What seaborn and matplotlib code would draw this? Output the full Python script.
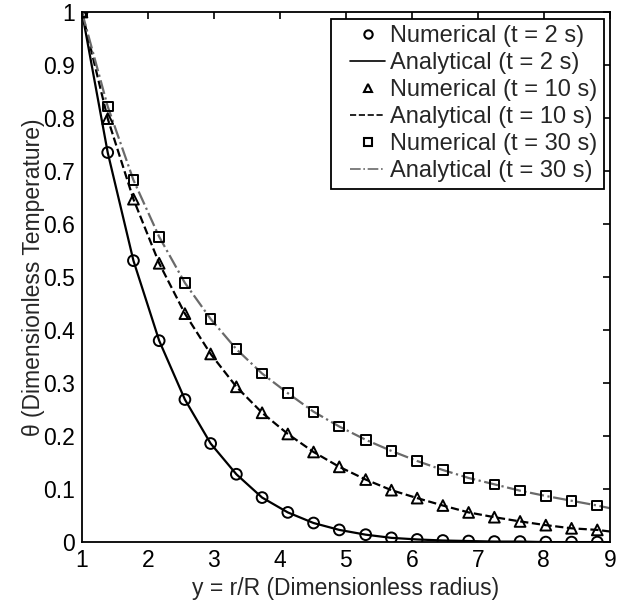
import matplotlib
matplotlib.use("Agg")
import matplotlib.pyplot as plt
import seaborn as sns
import pandas as pd
from matplotlib.lines import Line2D
from matplotlib.legend_handler import HandlerLine2D

# Data
x_num = [1.00, 1.39, 1.78, 2.17, 2.56, 2.95, 3.34, 3.73, 4.12, 4.51, 4.90,
         5.30, 5.69, 6.08, 6.47, 6.86, 7.25, 7.64, 8.03, 8.42, 8.81]
num_t2 = [1.0, 0.735, 0.531, 0.380, 0.269, 0.186, 0.128, 0.084, 0.056, 0.036, 0.023,
          0.014, 0.008, 0.005, 0.003, 0.002, 0.001, 0.001, 0.000, 0.000, 0.000]
num_t10 = [1.0, 0.799, 0.647, 0.526, 0.431, 0.355, 0.293, 0.244, 0.204, 0.170, 0.142,
           0.118, 0.098, 0.083, 0.069, 0.056, 0.047, 0.039, 0.032, 0.026, 0.023]
num_t30 = [1.0, 0.822, 0.683, 0.576, 0.489, 0.421, 0.364, 0.318, 0.281, 0.246, 0.218,
           0.193, 0.172, 0.153, 0.136, 0.121, 0.109, 0.097, 0.087, 0.078, 0.069]

x_ana = [1.00, 1.39, 1.78, 2.17, 2.56, 2.95, 3.34, 3.73, 4.12, 4.51, 4.90,
         5.30, 5.69, 6.08, 6.47, 6.86, 7.25, 7.64, 8.03, 8.42, 8.81, 9.00]
ana_t2 = [1.0, 0.735, 0.531, 0.380, 0.269, 0.186, 0.128, 0.084, 0.056, 0.036, 0.023,
          0.014, 0.008, 0.005, 0.003, 0.002, 0.001, 0.001, 0.000, 0.000, 0.000, 0.000]
ana_t10 = [1.0, 0.799, 0.647, 0.526, 0.431, 0.355, 0.293, 0.244, 0.204, 0.170, 0.142,
           0.118, 0.098, 0.083, 0.069, 0.056, 0.047, 0.039, 0.032, 0.026, 0.023, 0.020]
ana_t30 = [1.0, 0.822, 0.683, 0.576, 0.489, 0.421, 0.364, 0.318, 0.281, 0.246, 0.218,
           0.193, 0.172, 0.153, 0.136, 0.121, 0.109, 0.097, 0.087, 0.078, 0.069, 0.064]

x_ticks = [1, 2, 3, 4, 5, 6, 7, 8, 9]
y_ticks = [0, 0.1, 0.2, 0.3, 0.4, 0.5, 0.6, 0.7, 0.8, 0.9, 1]
y_ticklabels = ["0", "0.1", "0.2", "0.3", "0.4", "0.5", "0.6", "0.7", "0.8", "0.9", "1"]

sns.set_theme(style="white")
plt.rcParams["font.family"] = ["Liberation Sans", "DejaVu Sans"]

FS = 16.5
LFS = 17


class PadHandler(HandlerLine2D):
    """Line handler with extra space on its left side."""
    PAD = 9.5  # points

    def create_artists(self, legend, orig_handle, xdescent, ydescent, width,
                       height, fontsize, trans):
        return super().create_artists(legend, orig_handle, xdescent - self.PAD,
                                      ydescent, width - self.PAD, height,
                                      fontsize, trans)


fig = plt.figure(figsize=(6.21, 6.03), dpi=100)
ax = fig.add_axes([0.132, 0.101, 0.850, 0.879])

gray = "#6a6a6a"
series = [
    ("2", num_t2, ana_t2, "o", "-", "black"),
    ("10", num_t10, ana_t10, "^", "--", "black"),
    ("30", num_t30, ana_t30, "s", "-.", gray),
]

handles = []
labels = []
for t, num, ana, mk, ls, lc in series:
    sns.lineplot(x=x_ana, y=ana, ax=ax, color=lc, linestyle=ls, linewidth=1.6,
                 sort=False, estimator=None, zorder=2)
    msize = 60 if mk != "s" else 48
    sns.scatterplot(x=x_num, y=num, ax=ax, marker=mk, s=msize, facecolors="none",
                    edgecolor="black", linewidth=1.4, zorder=3)
    handles.append(Line2D([], [], linestyle="none", marker=mk, markersize=6,
                          markerfacecolor="none", markeredgecolor="black",
                          markeredgewidth=1.5))
    labels.append(f"Numerical (t = {t} s)")
    handles.append(Line2D([], [], color=lc, linestyle=ls, linewidth=1.2))
    labels.append(f"Analytical (t = {t} s)")

ax.set_xlim(1, 9)
ax.set_ylim(0, 1)
ax.set_xticks(x_ticks)
ax.set_xticklabels([str(v) for v in x_ticks])
ax.set_yticks(y_ticks)
ax.set_yticklabels(y_ticklabels)
ax.tick_params(direction="in", length=5, width=1.2, top=True, right=True,
               labelsize=FS, colors="black", pad=5)
for sp in ax.spines.values():
    sp.set_visible(True)
    sp.set_color("black")
    sp.set_linewidth(1.3)

ax.set_xlabel("y = r/R (Dimensionless radius)", fontsize=FS, labelpad=3.5)
ax.set_ylabel("θ (Dimensionless Temperature)", fontsize=FS, labelpad=-1.5)

handle_len = (25.2 + PadHandler.PAD) / LFS
leg = ax.legend(handles, labels, loc="upper right",
                bbox_to_anchor=(0.9886, 0.9868),
                fontsize=LFS, frameon=True, fancybox=False, edgecolor="black",
                framealpha=1, handlelength=handle_len, handletextpad=0.2,
                labelspacing=0.21, borderpad=0.27, borderaxespad=0.0,
                handler_map={Line2D: PadHandler()})
leg.get_frame().set_linewidth(1.3)

fig.savefig("out.png", dpi=100)
